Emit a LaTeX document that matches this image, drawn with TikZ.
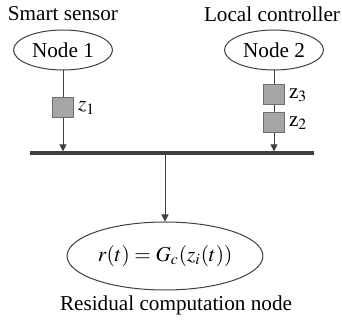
\documentclass[tikz,border=0pt]{standalone}
\usepackage{mathptmx}
\usepackage[no-math]{fontspec}
\setmainfont{Liberation Serif}
\usetikzlibrary{shapes.geometric,arrows.meta}

\definecolor{linegray}{HTML}{404040}
\definecolor{boxgray}{HTML}{A6A6A6}
\definecolor{boxedge}{HTML}{6E6E6E}

\begin{document}
\begin{tikzpicture}[x=1pt,y=1pt,node distance=20pt,
    every node/.style={font=\fontsize{10.6}{12.5}\selectfont},
    station/.style={ellipse,draw=linegray,line width=0.5pt,minimum width=49.5pt,minimum height=20pt,inner sep=1pt},
    packet/.style={draw=boxedge,fill=boxgray,line width=0.5pt,minimum width=10.5pt,minimum height=10pt,inner sep=0pt},
    wire/.style={draw=linegray,line width=0.5pt},
    >={Triangle[length=3.5pt,width=3.5pt]}]
      \useasboundingbox (0,0) rectangle (171,162.5);

      % the two stations and their roles
      \node[station] (1) at (31.5,137.5) {Node 1};
      \node[station,right of=1,xshift=85.5pt] (2) {Node 2};
      \node[above of=1,yshift=-2pt] (s) {Smart sensor};
      \node[above of=2,yshift=-2pt,xshift=-1pt] (l) {Local controller};

      % data packets
      \node[packet,below of=1,yshift=-9pt] (z1) {};
      \node[packet,below of=2,yshift=-2.5pt] (z3) {};
      \node[packet,below of=z3,yshift=6pt] (z2) {};
      \node[right of=z1,anchor=west,xshift=-16pt] {$z_1$};
      \node[right of=z3,anchor=west,xshift=-16pt] {z$_3$};
      \node[right of=z2,anchor=west,xshift=-16pt] {z$_2$};

      % residual computation
      \node[station,minimum width=75pt,minimum height=34pt] (r) at (82.5,34.5) {$r(t)=G_c(z_i(t))$};
      \node[below of=r,yshift=-4.5pt,xshift=5.5pt] (n) {Residual computation node};

      % bus
      \coordinate (bl) at (15,86);
      \coordinate (br) at (157,86);
      \coordinate (b1) at (1 |- bl);
      \coordinate (b2) at (2 |- bl);
      \coordinate (bc) at (r |- bl);
      \draw[linegray,line width=1.6pt] (bl) -- (br);

      \draw[wire] (1) -- (z1);
      \draw[wire,->,shorten >=0.8pt] (z1) -- (b1);
      \draw[wire] (2) -- (z3);
      \draw[wire] (z3) -- (z2);
      \draw[wire,->,shorten >=0.8pt] (z2) -- (b2);
      \draw[wire,->] (bc) -- (r);
    \end{tikzpicture}
\end{document}
